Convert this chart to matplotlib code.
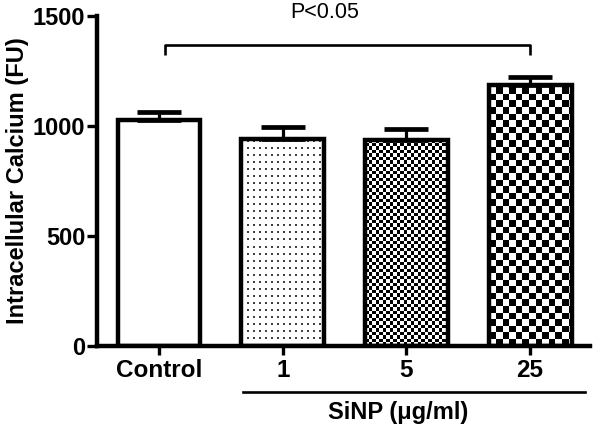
import numpy as np
import matplotlib
matplotlib.use("Agg")
import matplotlib.pyplot as plt
import matplotlib.transforms as mtransforms

categories = ["Control", "1", "5", "25"]
values = [1027, 943, 935, 1188]
errors = [37, 54, 50, 34]
yticks = [0, 500, 1000, 1500]
ylabel = "Intracellular Calcium (FU)"
group_label = "SiNP (\u03bcg/ml)"
sig_label = "P<0.05"

plt.rcParams['font.family'] = ['Liberation Sans', 'DejaVu Sans']

W, H = 600, 433
fig = plt.figure(figsize=(W / 100, H / 100), dpi=100)
ax = fig.add_axes([97 / W, 87 / H, 493 / W, 330 / H])

x = np.arange(len(categories))
xlim = (-0.501, 3.484)
ylim = (0, 1500)
ax.set_xlim(*xlim)
ax.set_ylim(*ylim)

bw = 0.67
lw = 3.2
bars = ax.bar(x, values, width=bw, facecolor='none', edgecolor='black',
              linewidth=lw, zorder=3)
ax.errorbar(x, values, yerr=[np.zeros(len(values)), errors], fmt='none',
            ecolor='black', elinewidth=2.3, capsize=16, capthick=3.4, zorder=2.5)

# fill patterns drawn as pixel images clipped to the bars
px_x = 493 / (xlim[1] - xlim[0])
px_y = 330 / (ylim[1] - ylim[0])


def pattern(kind, hpx, wpx):
    i, j = np.mgrid[0:hpx, 0:wpx]
    if kind == 'dots':
        return ((i % 7 < 2) & (j % 6 < 2)).astype(float) * 0.8
    if kind == 'fine':
        c = 3.5
    else:
        c = 6.6
    return ((np.floor(i / c) + np.floor(j / c)) % 2).astype(float)


kinds = [None, 'dots', 'fine', 'coarse']
for b, k in zip(bars, kinds):
    if k is None:
        continue
    x0, w, h = b.get_x(), b.get_width(), b.get_height()
    wpx = int(round(w * px_x))
    hpx = int(round(h * px_y))
    arr = pattern(k, hpx, wpx)
    im = ax.imshow(arr, extent=(x0, x0 + w, 0, h), origin='lower',
                   interpolation='nearest', cmap='Greys', vmin=0, vmax=1,
                   aspect='auto', zorder=2)
    im.set_clip_path(b)

ax.set_xlim(*xlim)
ax.set_ylim(*ylim)

for s in ['top', 'right']:
    ax.spines[s].set_visible(False)
for s in ['left', 'bottom']:
    ax.spines[s].set_linewidth(3.2)

ax.set_xticks(x)
ax.set_xticklabels(categories, fontsize=17.5, fontweight='bold')
ax.set_yticks(yticks)
ax.set_yticklabels([str(t) for t in yticks], fontsize=17, fontweight='bold')
ax.tick_params(axis='x', direction='out', length=6.5, width=2.4, pad=3)
ax.tick_params(axis='y', direction='out', length=7, width=2.4, pad=1.5)
ax.set_ylabel(ylabel, fontsize=17, fontweight='bold', labelpad=2.5)

# significance bracket
ax.plot([0.05, 0.05, 3.0, 3.0], [1323, 1368, 1368, 1323], color='black',
        lw=1.9, clip_on=False, solid_capstyle='butt')
ax.text(1.34, 1514, sig_label, fontsize=15.5, ha='center', va='center',
        clip_on=False)

# group underline and label
trans = mtransforms.blended_transform_factory(ax.transData, ax.transAxes)
ax.plot([0.68, 3.44], [-0.139, -0.139], color='black', lw=1.9,
        transform=trans, clip_on=False)
ax.text(1.93, -0.2, group_label, fontsize=17, fontweight='bold',
        ha='center', va='center', transform=trans)

fig.savefig('out.png', dpi=100)
